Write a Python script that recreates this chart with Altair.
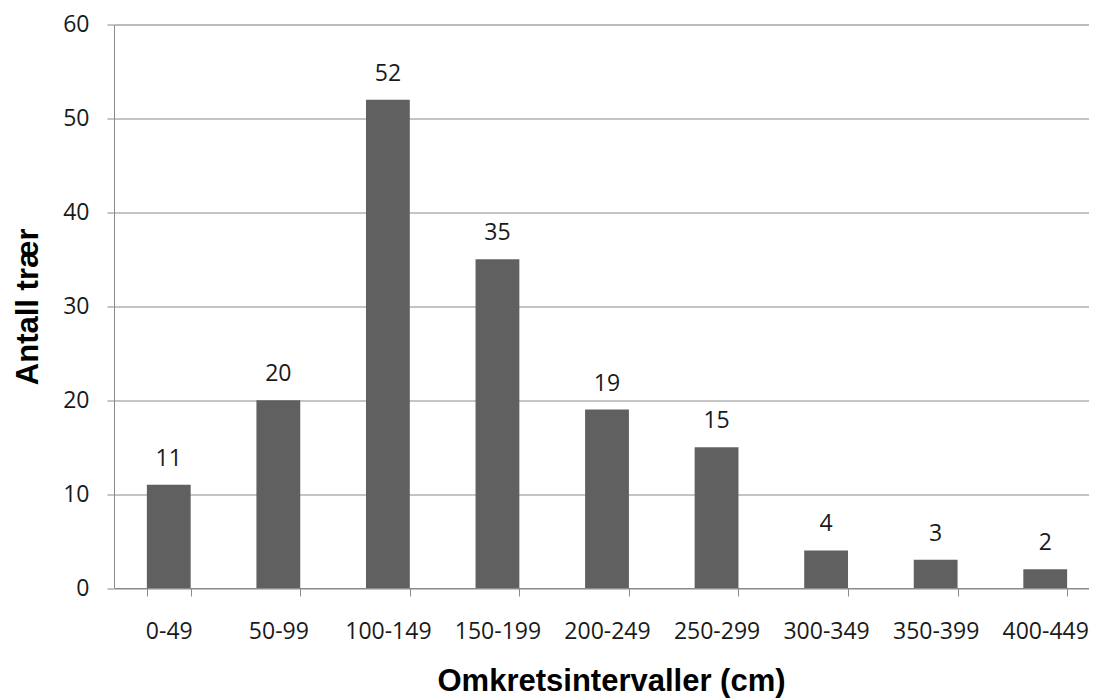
import altair as alt
import pandas as pd

categories = ["0-49", "50-99", "100-149", "150-199", "200-249",
              "250-299", "300-349", "350-399", "400-449"]
counts = [11, 20, 52, 35, 19, 15, 4, 3, 2]
y_ticks = [0, 10, 20, 30, 40, 50, 60]

df = pd.DataFrame({"interval": categories, "count": counts})

GRID = "#8a8a8a"
BAR = "#606060"
LABEL_FONT = "Open Sans"
TITLE_FONT = "Liberation Sans"

x_enc = alt.X(
    "interval:N",
    sort=categories,
    scale=alt.Scale(paddingInner=0.6, paddingOuter=0.3, range=[0, 986]),
    axis=alt.Axis(
        title="Omkretsintervaller (cm)",
        titleFont=TITLE_FONT,
        titleFontSize=31,
        titleFontWeight="bold",
        titleColor="#000000",
        titleBaseline="alphabetic",
        titleX=497,
        titleY=102,
        labelAngle=0,
        labelFont=LABEL_FONT,
        labelFontSize=23,
        labelColor="#1a1a1a",
        labelPadding=24,
        tickBand="extent",
        tickSize=8,
        tickColor=GRID,
        domainColor=GRID,
        grid=False,
    ),
)

y_enc = alt.Y(
    "count:Q",
    scale=alt.Scale(domain=[0, 60], nice=False),
    axis=alt.Axis(
        title="Antall trær",
        titleFont=TITLE_FONT,
        titleFontSize=31,
        titleFontWeight="bold",
        titleColor="#000000",
        titleBaseline="alphabetic",
        titleX=-77,
        values=y_ticks,
        labelFont=LABEL_FONT,
        labelFontSize=23,
        labelColor="#1a1a1a",
        labelPadding=18,
        tickSize=7,
        tickColor=GRID,
        domainColor=GRID,
        gridColor=GRID,
        grid=True,
    ),
)

bars = alt.Chart(df).mark_bar(color=BAR).encode(x=x_enc, y=y_enc)

labels = alt.Chart(df).mark_text(
    font=LABEL_FONT, fontSize=23, color="#1a1a1a",
    baseline="alphabetic", dy=-19,
).encode(x=alt.X("interval:N", sort=categories), y="count:Q", text="count:Q")

chart = (
    alt.layer(bars, labels)
    .properties(
        width=975,
        height=563.5,
        autosize=alt.AutoSizeParams(type="none"),
        padding={"left": 106, "top": 16.5, "right": 0, "bottom": 110},
    )
    .configure_view(stroke=None)
    .configure(background="white")
)

chart.save("out.html", embed_options={"renderer": "svg", "actions": False})
